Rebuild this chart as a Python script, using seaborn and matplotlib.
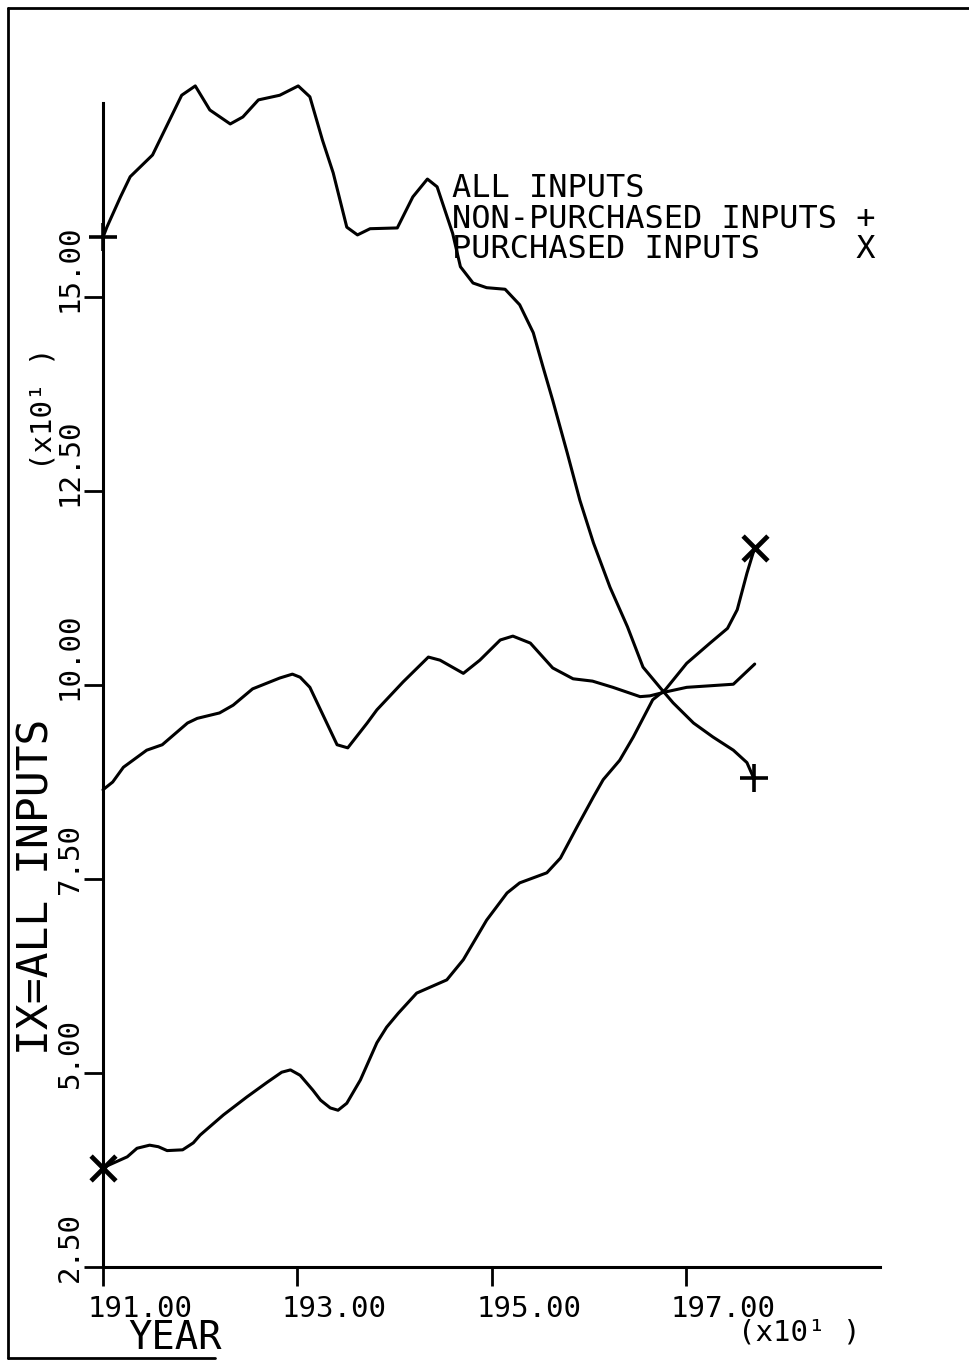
import seaborn as sns
import pandas as pd
import matplotlib.pyplot as plt
from matplotlib.lines import Line2D

# values (year, index with 1967 ~ 100)
all_years = [1910.0, 1911.0, 1912.1, 1914.5, 1916.1, 1918.7, 1919.7, 1922.0, 1923.4, 1925.4,
             1928.2, 1929.5, 1930.3, 1931.3, 1934.1, 1935.2, 1937.2, 1938.2, 1940.9, 1943.5,
             1944.7, 1947.1, 1948.8, 1950.9, 1952.2, 1954.0, 1956.3, 1958.4, 1960.4, 1962.5,
             1965.3, 1966.3, 1967.9, 1970.1, 1974.9, 1977.1]
all_vals = [86.5, 87.5, 89.4, 91.6, 92.3, 95.1, 95.7, 96.4, 97.4, 99.5,
            100.9, 101.4, 101.0, 99.7, 92.3, 91.9, 95.1, 96.8, 100.4, 103.6,
            103.2, 101.5, 103.2, 105.8, 106.3, 105.4, 102.2, 100.8, 100.5, 99.7,
            98.5, 98.6, 99.1, 99.7, 100.1, 102.7]

nonpur_years = [1910.0, 1910.4, 1911.8, 1912.8, 1915.1, 1918.1, 1919.5, 1921.0, 1923.1, 1924.4,
                1926.0, 1928.2, 1930.1, 1931.3, 1932.6, 1933.7, 1935.1, 1936.2, 1937.5, 1940.3,
                1941.9, 1943.4, 1944.4, 1946.0, 1946.8, 1948.1, 1949.5, 1951.4, 1952.9, 1954.3,
                1955.3, 1956.3, 1957.8, 1959.1, 1960.5, 1962.2, 1964.0, 1965.6, 1967.4, 1968.7,
                1970.8, 1972.8, 1974.9, 1976.3, 1977.0]
nonpur_vals = [157.7, 159.0, 162.9, 165.5, 168.3, 176.0, 177.2, 174.1, 172.3, 173.2,
               175.4, 176.0, 177.2, 175.8, 170.2, 166.0, 159.0, 158.0, 158.8, 158.9,
               162.9, 165.2, 164.2, 158.2, 153.9, 151.8, 151.2, 151.0, 149.0, 145.4,
               141.0, 136.7, 129.9, 123.8, 118.3, 112.6, 107.5, 102.3, 99.6, 97.7,
               95.1, 93.3, 91.6, 90.0, 88.0]

pur_years = [1910.0, 1912.5, 1913.5, 1914.8, 1915.7, 1916.6, 1918.2, 1919.3, 1920.0, 1922.4,
             1924.8, 1926.9, 1928.4, 1929.3, 1930.3, 1931.6, 1932.4, 1933.4, 1934.2, 1935.1,
             1936.5, 1938.2, 1939.2, 1940.4, 1942.3, 1945.4, 1947.1, 1949.5, 1951.6, 1952.9,
             1955.7, 1957.1, 1958.8, 1960.5, 1961.5, 1963.2, 1964.6, 1966.6, 1967.9, 1970.1,
             1972.5, 1974.3, 1975.3, 1976.3, 1977.1]
pur_vals = [37.8, 39.2, 40.3, 40.7, 40.5, 40.0, 40.1, 41.0, 42.0, 44.6,
            46.9, 48.8, 50.1, 50.4, 49.7, 47.8, 46.5, 45.5, 45.2, 46.1,
            49.1, 53.9, 55.9, 57.7, 60.3, 62.0, 64.6, 69.7, 73.2, 74.5,
            75.8, 77.7, 81.7, 85.6, 87.8, 90.3, 93.3, 98.1, 99.4, 102.8,
            105.4, 107.3, 109.7, 114.4, 117.7]

x_ticks = [1910, 1930, 1950, 1970]
x_labels = ["191.00", "193.00", "195.00", "197.00"]
y_ticks = [25, 50, 75, 100, 125, 150]
y_labels = ["2.50", "5.00", "7.50", "10.00", "12.50", "15.00"]
legend_lines = ["ALL INPUTS", "NON-PURCHASED INPUTS +", "PURCHASED INPUTS     X"]

sns.set_style("white")
plt.rcParams['font.family'] = ['DejaVu Sans Mono', 'DejaVu Sans']
plt.rcParams['text.color'] = 'black'

W, H = 970, 1362
fig = plt.figure(figsize=(W / 100, H / 100), dpi=100)
ax = fig.add_axes([103 / W, 1 - 1267 / H, 777 / W, 1164 / H])

df_all = pd.DataFrame({'year': all_years, 'ix': all_vals})
df_np = pd.DataFrame({'year': nonpur_years, 'ix': nonpur_vals})
df_p = pd.DataFrame({'year': pur_years, 'ix': pur_vals})

for d in [df_all, df_np, df_p]:
    sns.lineplot(data=d, x='year', y='ix', ax=ax, color='black', lw=2.2,
                 estimator=None, clip_on=False)

# end markers: + for non-purchased, x for purchased
sns.scatterplot(data=df_np.iloc[[0, -1]], x='year', y='ix', ax=ax, marker='+',
                s=420, linewidth=2.6, color='black', clip_on=False, zorder=4)
sns.scatterplot(data=df_p.iloc[[0, -1]], x='year', y='ix', ax=ax, marker='x',
                s=320, linewidth=3.4, color='black', clip_on=False, zorder=4)

ax.set_xlim(1910, 1990)
ax.set_ylim(25, 175)
sns.despine(ax=ax)
for s in ['left', 'bottom']:
    ax.spines[s].set_linewidth(2.2)
    ax.spines[s].set_color('black')
ax.set_xticks(x_ticks)
ax.set_yticks(y_ticks)
ax.tick_params(direction='out', length=14, width=2, color='black',
               labelbottom=False, labelleft=False, bottom=True, left=True)
ax.set_xlabel('')
ax.set_ylabel('')

for v, lab in zip(y_ticks, y_labels):
    ax.annotate(lab, xy=(0, v), xycoords=('axes fraction', 'data'),
                xytext=(-18, -11), textcoords='offset points', rotation=90,
                rotation_mode='anchor', ha='left', va='baseline', fontsize=21)
for v, lab in zip(x_ticks, x_labels):
    ax.annotate(lab, xy=(v, 0), xycoords=('data', 'axes fraction'),
                xytext=(-11, -36), textcoords='offset points',
                ha='left', va='baseline', fontsize=21)

fig.text(128 / W, 1 - 1349 / H, "YEAR", fontsize=28, va='baseline', ha='left')
fig.text(738 / W, 1 - 1340 / H, "(x10\u00b9 )", fontsize=21, va='baseline', ha='left')
fig.text(49 / W, 1 - 1055 / H, "IX=ALL INPUTS", fontsize=31, rotation=90,
         rotation_mode='anchor', ha='left', va='baseline')
fig.text(52 / W, 1 - 470 / H, "(x10\u00b9 )", fontsize=21, rotation=90,
         rotation_mode='anchor', ha='left', va='baseline')

for i, line in enumerate(legend_lines):
    fig.text(452 / W, 1 - (197 + 30.5 * i) / H, line, fontsize=23,
             va='baseline', ha='left')

# page frame of the scanned plot
for xs, ys in [([8, W], [8, 8]), ([8, 8], [8, 1358]), ([8, 215], [1358, 1358])]:
    fig.add_artist(Line2D([x / W for x in xs], [1 - y / H for y in ys],
                          color='black', lw=2))

fig.savefig('out.png', dpi=100)
